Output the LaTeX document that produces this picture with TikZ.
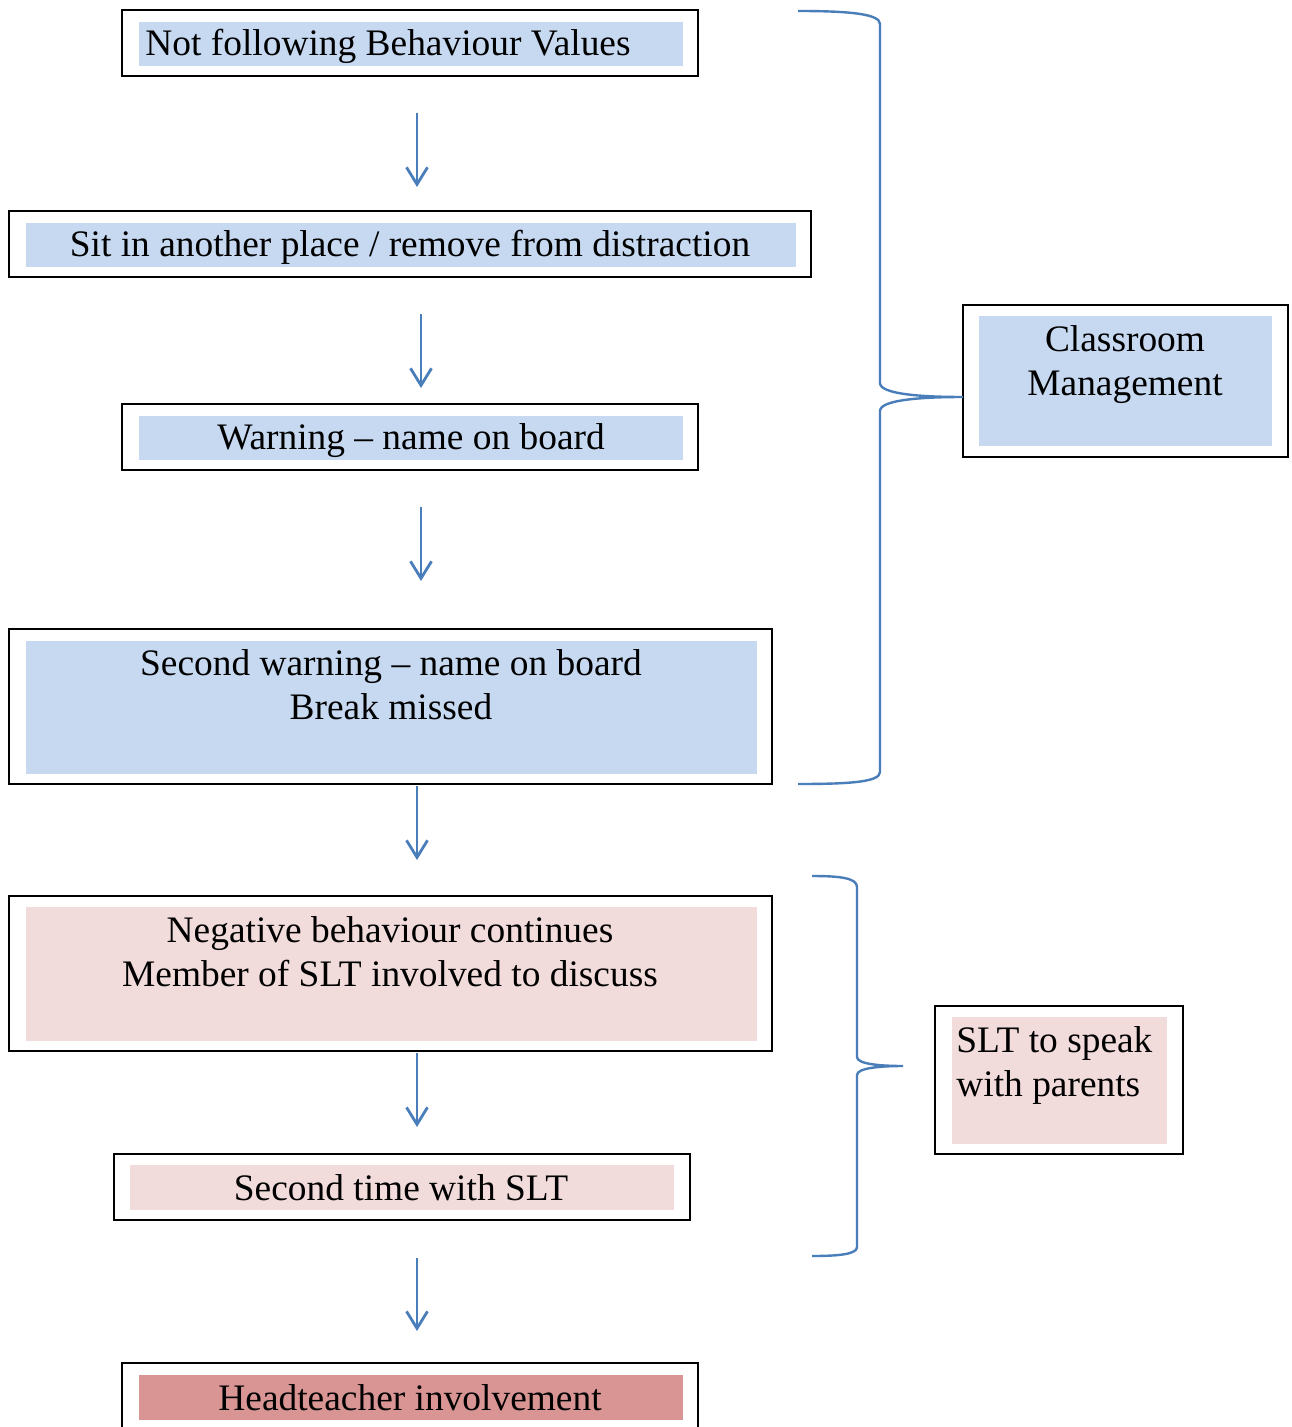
\documentclass[tikz,border=0pt]{standalone}
\usepackage{fontspec}
\setmainfont{Liberation Serif}
\usetikzlibrary{arrows.meta}
\definecolor{fillblue}{HTML}{C6D9F1}
\definecolor{fillpink}{HTML}{F2DCDB}
\definecolor{filldark}{HTML}{D99594}
\definecolor{linecol}{HTML}{4A7EBB}
\begin{document}
\begin{tikzpicture}[x=0.5pt,y=-0.5pt,
  frame/.style={draw=black, line width=1pt, inner sep=0pt, outer sep=0pt},
  inbox/.style={inner sep=0pt, outer sep=0pt},
  lab/.style={font=\fontsize{18.7}{22}\selectfont, anchor=base, inner sep=0pt},
  labl/.style={lab, anchor=base west},
  flow/.style={draw=linecol, line width=1.4pt, -{Straight Barb[length=8.5pt,width=10.5pt,line width=1.4pt]}},
  brace/.style={draw=linecol, line width=1.2pt}]
\clip (0,0) rectangle (1291,1427);
\fill[white] (0,0) rectangle (1291,1427);
% inner fills
\node[inbox, fill=fillblue, minimum width=272pt, minimum height=22pt] (i1) at (411,44) {};
\node[inbox, fill=fillblue, minimum width=385pt, minimum height=22pt] (i2) at (411,245) {};
\node[inbox, fill=fillblue, minimum width=272pt, minimum height=22pt] (i3) at (411,438) {};
\node[inbox, fill=fillblue, minimum width=365.5pt, minimum height=66.5pt] (i4) at (391.5,707.5) {};
\node[inbox, fill=fillpink, minimum width=365.5pt, minimum height=67pt] (i5) at (391.5,974) {};
\node[inbox, fill=fillpink, minimum width=272pt, minimum height=22.5pt] (i6) at (402,1187.5) {};
\node[inbox, fill=filldark, minimum width=272pt, minimum height=22.5pt] (i7) at (411,1397.5) {};
\node[inbox, fill=fillblue, minimum width=146.5pt, minimum height=65pt] (iA) at (1125.5,381) {};
\node[inbox, fill=fillpink, minimum width=107.5pt, minimum height=63.5pt] (iB) at (1059.5,1080.5) {};
% frames
\node[frame, minimum width=288pt, minimum height=33pt] (b1) at (410,43) {};
\node[frame, minimum width=401pt, minimum height=33pt] (b2) at (410,244) {};
\node[frame, minimum width=288pt, minimum height=33pt] (b3) at (410,437) {};
\node[frame, minimum width=381.5pt, minimum height=77.5pt] (b4) at (390.5,706.5) {};
\node[frame, minimum width=381.5pt, minimum height=77.5pt] (b5) at (390.5,973.5) {};
\node[frame, minimum width=288pt, minimum height=33pt] (b6) at (402,1187) {};
\node[frame, minimum width=288pt, minimum height=33pt] (b7) at (410,1396) {};
\node[frame, minimum width=162.5pt, minimum height=76pt] (sA) at (1125.5,381) {};
\node[frame, minimum width=124pt, minimum height=74pt] (sB) at (1059,1080) {};
% texts
\node[lab] (t1) at (388,56) {Not following Behaviour Values};
\node[lab] (t2) at (410,257) {Sit in another place / remove from distraction};
\node[lab] (t3) at (411,450) {Warning – name on board};
\node[lab] (t4a) at (391,675) {Second warning – name on board};
\node[lab] (t4b) at (391,719) {Break missed};
\node[lab] (t5a) at (390,942) {Negative behaviour continues};
\node[lab] (t5b) at (390,986) {Member of SLT involved to discuss};
\node[lab] (t6) at (401,1200) {Second time with SLT};
\node[lab] (t7) at (410,1410) {Headteacher involvement};
\node[lab] (tA1) at (1125,352) {Classroom};
\node[lab] (tA2) at (1125,395) {Management};
\node[labl] (tB1) at (956,1052) {SLT to speak};
\node[labl] (tB2) at (956,1096) {with parents};
% arrow ends
\coordinate (a1s) at (417,113); \coordinate (a1e) at (417,187);
\coordinate (a2s) at (421,314); \coordinate (a2e) at (421,388);
\coordinate (a3s) at (421,507); \coordinate (a3e) at (421,581);
\coordinate (a4s) at (417,786); \coordinate (a4e) at (417,860);
\coordinate (a5s) at (417,1053); \coordinate (a5e) at (417,1127);
\coordinate (a6s) at (417,1258); \coordinate (a6e) at (417,1331);
\draw[flow] (a1s) -- (a1e);
\draw[flow] (a2s) -- (a2e);
\draw[flow] (a3s) -- (a3e);
\draw[flow] (a4s) -- (a4e);
\draw[flow] (a5s) -- (a5e);
\draw[flow] (a6s) -- (a6e);
% braces
\coordinate (br1t) at (798,11); \coordinate (br1b) at (798,784);
\coordinate (br2t) at (812,876); \coordinate (br2b) at (812,1256);
\coordinate (br2tip) at (903,1066);
\draw[brace] (br1t) .. controls (850,11) and (880,14) .. (880,24) -- (880,383)
  .. controls (880,394) and (920,397) .. (sA.west |- 0,397)
  .. controls (920,397) and (880,400) .. (880,411) -- (880,772)
  .. controls (880,782) and (850,784) .. (br1b);
\draw[brace] (br2t) .. controls (840,876) and (857,878) .. (857,887) -- (857,1057)
  .. controls (857,1064) and (880,1066) .. (br2tip)
  .. controls (880,1066) and (857,1068) .. (857,1075) -- (857,1247)
  .. controls (857,1254) and (840,1256) .. (br2b);
\end{tikzpicture}
\end{document}
